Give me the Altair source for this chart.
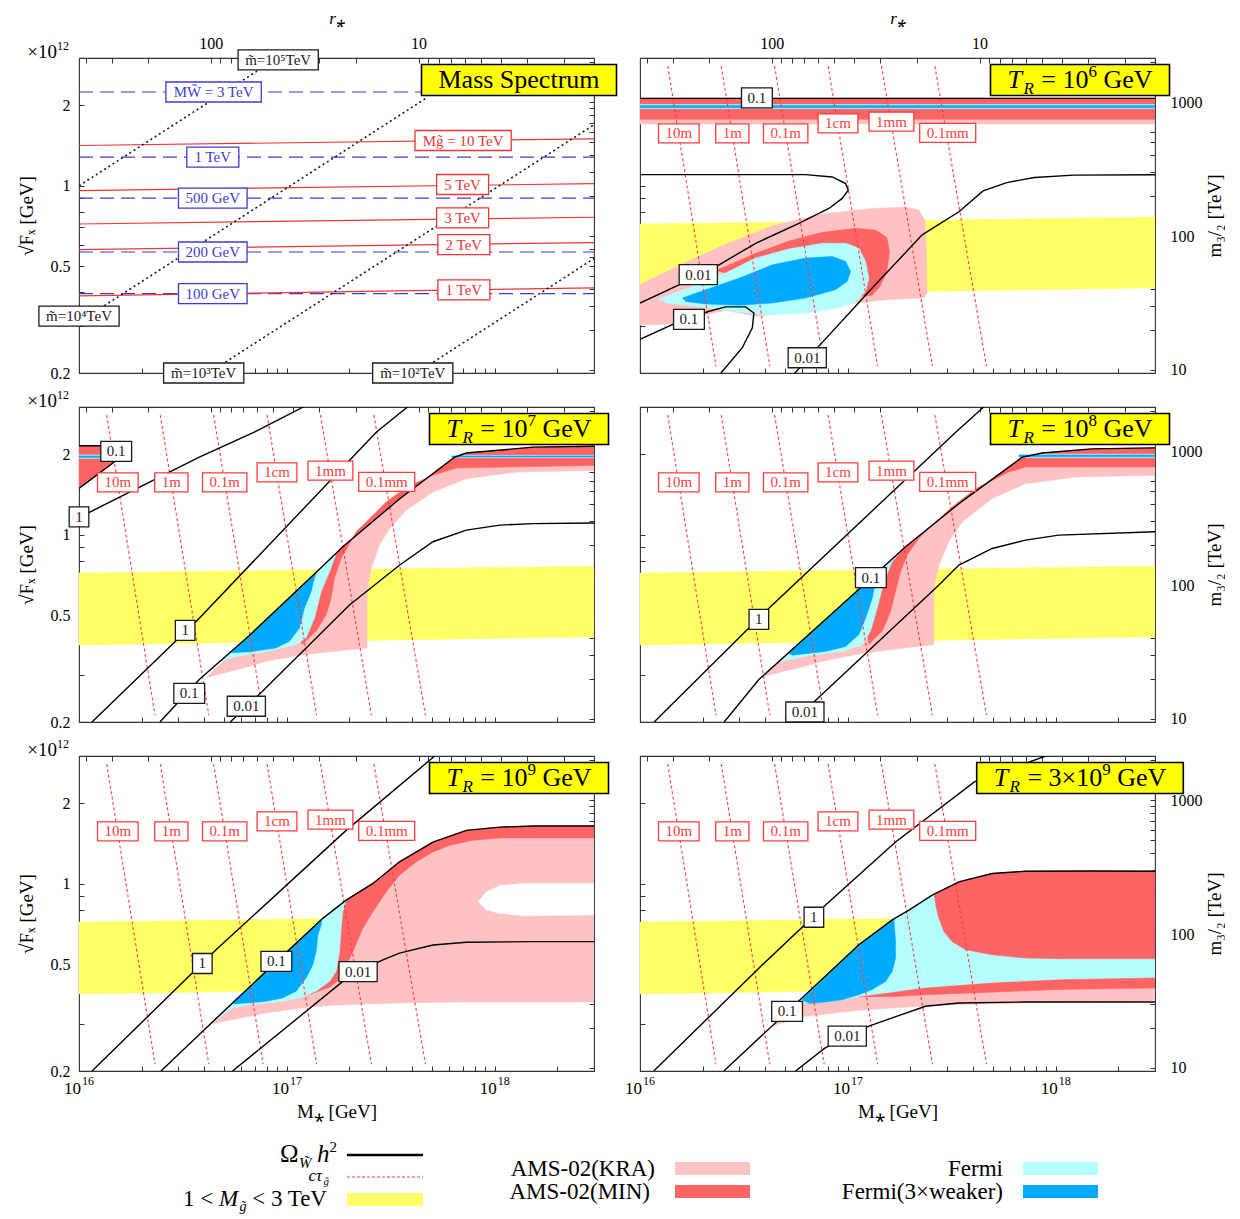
import altair as alt
import pandas as pd

FONT = "Liberation Serif"
W, H = 515, 315
X_DOM = [1e16, 3e18]
Y_DOM = [0.2, 3.0]
M32_DOM = [9.484, 2133.9]     # m_3/2 [TeV] at the two ends of the sqrt(F) axis
RS_DOM = [1.433, 430.0]       # r_* at the two ends of the M_* axis

C_KRA = "#ffc2c2"
C_MIN = "#ff6464"
C_FER = "#b4ffff"
C_FER3 = "#00aaff"
C_YEL = "#ffff66"
C_TITLE = "#ffff00"
C_CT = "#ff3b3b"
C_BLUE = "#3c3cd0"
C_RED = "#ee3535"
C_BLK = "#1a1a1a"

X_TICKS = [1e16, 2e16, 3e16, 4e16, 5e16, 6e16, 7e16, 8e16, 9e16, 1e17, 2e17, 3e17, 4e17, 5e17,
           6e17, 7e17, 8e17, 9e17, 1e18, 2e18]
Y_TICKS = [0.2, 0.3, 0.4, 0.5, 0.6, 0.7, 0.8, 0.9, 1.0, 2.0]
M_TICKS = [10, 20, 30, 40, 50, 60, 70, 80, 90, 100, 200, 300, 400, 500, 600, 700, 800, 900, 1000, 2000]
R_TICKS = [2, 3, 4, 5, 6, 7, 8, 9, 10, 20, 30, 40, 50, 60, 70, 80, 90, 100, 200, 300, 400]
Y_EXPR = "datum.value == 0.2 ? '0.2' : datum.value == 0.5 ? '0.5' : datum.value == 1 ? '1' : datum.value == 2 ? '2' : ''"
M_EXPR = "datum.value == 10 ? '10' : datum.value == 100 ? '100' : datum.value == 1000 ? '1000' : ''"
R_EXPR = "datum.value == 10 ? '10' : datum.value == 100 ? '100' : ''"

# ---------------- shared data ----------------
GLU_M = [1e16, 3e18, 3e18, 1e16]          # 1 TeV < M_gluino < 3 TeV band
GLU_F = [0.388, 0.416, 0.763, 0.72]

CT_TOP_M = [1.36e16, 2.46e16, 4.44e16, 8.03e16, 1.45e17, 2.62e17]
CT_BOT_M = [2.32e16, 4.21e16, 7.69e16, 1.39e17, 2.55e17, 4.64e17]
CT_TOP_F = 2.8
CT_BOT_F = 0.212
CT_LAB = ["10m", "1m", "0.1m", "1cm", "1mm", "0.1mm"]
CT_LAB_M = [1.537e16, 2.78e16, 5.02e16, 8.96e16, 1.62e17, 3.02e17]
CT_LAB_F = [1.57, 1.57, 1.57, 1.71, 1.735, 1.575]

# ---------------- panel 1: mass spectrum ----------------
MW_LEVELS = [2.24, 1.28, 0.899, 0.566, 0.396]
MG_LEFT = [1.414, 0.96, 0.72, 0.578, 0.388]
MG_RIGHT = [1.497, 1.019, 0.763, 0.614, 0.416]
MSF_M = [[1e16, 9.0e16], [1e16, 4.7e17], [4.2e16, 3e18], [4.2e17, 3e18]]
MSF_F = [[1.0, 3.0], [0.31, 2.13], [0.2, 1.69], [0.2, 0.535]]
P1_LAB = ["m\u0303=10\u2075TeV", "MW\u0303 = 3 TeV", "1 TeV", "500 GeV", "200 GeV", "100 GeV",
          "Mg\u0303 = 10 TeV", "5 TeV", "3 TeV", "2 TeV", "1 TeV",
          "m\u0303=10\u2074TeV", "m\u0303=10\u00b3TeV", "m\u0303=10\u00b2TeV"]
P1_LAB_M = [9.08e16, 4.44e16, 4.4e16, 4.4e16, 4.4e16, 4.4e16, 7.04e17, 7.0e17, 7.0e17, 7.1e17,
            7.1e17, 1.0e16, 3.98e16, 4.03e17]
P1_LAB_F = [2.95, 2.24, 1.28, 0.899, 0.566, 0.396, 1.476, 1.011, 0.759, 0.603, 0.409, 0.326, 0.2, 0.2]
P1_LAB_C = [C_BLK] + [C_BLUE] * 5 + [C_RED] * 5 + [C_BLK] * 3

# ---------------- panel 2: T_R = 1e6 GeV ----------------
P2_TOP_M = [1e16, 3e18, 3e18, 1e16]
P2_TOP_KRA_F = [1.70, 1.70, 2.12, 2.12]
P2_TOP_MIN_F = [1.77, 1.77, 2.12, 2.12]
P2_TOP_FER_F = [1.94, 1.94, 2.01, 2.01]
P2_TOP_FER3_F = [1.955, 1.955, 1.995, 1.995]
P2_KRA_M = [1.0e16, 1.43e16, 2.49e16, 4.33e16, 7.53e16, 1.309e17, 1.893e17, 2.193e17, 2.345e17, 2.38e17,
            2.406e17, 2.32e17, 1.574e17, 1.089e17, 7.53e16, 5.2e16, 3.6e16, 2.58e16, 2.07e16, 1.43e16, 1.0e16]
P2_KRA_F = [0.427, 0.490, 0.598, 0.710, 0.785, 0.823, 0.833, 0.812, 0.745, 0.585,
            0.398, 0.381, 0.376, 0.365, 0.350, 0.335, 0.326, 0.343, 0.330, 0.305, 0.302]
P2_MIN_M = [2.31e16, 3.6e16, 5.2e16, 7.53e16, 1.089e17, 1.358e17, 1.54e17, 1.586e17, 1.54e17, 1.42e17,
            1.309e17, 1.129e17, 9.05e16, 5.2e16, 2.99e16]
P2_MIN_F = [0.482, 0.560, 0.622, 0.670, 0.694, 0.684, 0.641, 0.568, 0.479, 0.418,
            0.390, 0.387, 0.398, 0.466, 0.459]
P2_FER_M = [1.234e16, 1.72e16, 2.49e16, 3.6e16, 5.2e16, 7.53e16, 9.75e16, 1.129e17, 1.216e17, 1.262e17,
            1.216e17, 1.089e17, 9.05e16, 6.26e16, 4.33e16, 3.34e16, 2.49e16, 1.72e16, 1.328e16]
P2_FER_F = [0.379, 0.415, 0.466, 0.537, 0.581, 0.610, 0.610, 0.585, 0.522, 0.452,
            0.403, 0.370, 0.350, 0.335, 0.330, 0.335, 0.345, 0.358, 0.365]
P2_FER3_M = [1.598e16, 2.07e16, 2.99e16, 4.33e16, 6.26e16, 8.41e16, 9.75e16, 1.03e17, 9.93e16, 8.72e16,
             6.26e16, 4.33e16, 2.99e16, 2.07e16, 1.658e16]
P2_FER3_F = [0.381, 0.409, 0.452, 0.507, 0.537, 0.545, 0.522, 0.479, 0.440, 0.409,
             0.381, 0.365, 0.358, 0.362, 0.370]
P2_C_M = [[1.0e16, 6.26e16, 8.41e16, 9.75e16, 1.004e17, 9.39e16, 8.1e16, 5.81e16, 3.6e16, 2.4e16, 1.54e16, 1.0e16],
          [1.0e16, 1.43e16, 2.15e16, 2.58e16, 3.22e16, 3.53e16, 3.47e16, 3.1e16, 2.45e16],
          [5.5e16, 7.25e16, 1.309e17, 2.276e17, 3.42e17, 4.47e17, 5.81e17, 7.89e17, 1.22e18, 3.0e18],
          [1.0e16, 3.0e18]]
P2_C_F = [[1.101, 1.101, 1.079, 1.019, 0.964, 0.897, 0.823, 0.724, 0.610, 0.507, 0.427, 0.365],
          [0.267, 0.303, 0.340, 0.353, 0.353, 0.335, 0.295, 0.248, 0.2],
          [0.198, 0.252, 0.415, 0.656, 0.800, 0.957, 1.028, 1.074, 1.096, 1.099],
          [2.12, 2.12]]
P2_LAB = ["0.1", "0.01", "0.1", "0.01"]
P2_LAB_M = [3.65e16, 1.907e16, 1.72e16, 6.375e16]
P2_LAB_F = [2.13, 0.466, 0.317, 0.228]

# ---------------- panel 3: T_R = 1e7 GeV ----------------
P3_TRI_M = [1e16, 1.45e16, 1.56e16, 1e16]
P3_TRI_F = [2.15, 2.15, 1.93, 1.49]
P3_TLS_M = [1e16, 1.3e16, 1.3e16, 1e16]
P3_TLS_FER_F = [1.93, 1.93, 1.985, 1.985]
P3_TLS_FER3_F = [1.945, 1.945, 1.97, 1.97]
P3_TRS_M = [6.2e17, 3e18, 3e18, 6.2e17]
P3_TRS_FER_F = [1.94, 1.94, 1.98, 1.98]
P3_TRS_FER3_F = [1.95, 1.95, 1.97, 1.97]
P3_KRA_M = [4.08e16, 6.6e16, 1.392e17, 1.858e17, 3.49e17, 6.41e17, 7.3e17, 1.53e18, 3.0e18, 3.0e18, 1.272e18,
            7.3e17, 5.04e17, 3.75e17, 3.12e17, 2.79e17, 2.545e17, 2.43e17, 2.43e17, 1.663e17, 1.148e17, 7.94e16, 5.48e16]
P3_KRA_F = [0.292, 0.421, 0.728, 0.902, 1.364, 1.948, 2.02, 2.124, 2.142, 1.739, 1.714,
            1.618, 1.444, 1.235, 1.055, 0.916, 0.749, 0.614, 0.378, 0.367, 0.355, 0.337, 0.310]
P3_MIN_M = [1.19e17, 1.12e17, 1.25e17, 1.64e17, 1.75e17, 1.858e17, 3.49e17, 6.41e17, 7.3e17, 1.53e18, 3.0e18,
            3.0e18, 6.53e17, 5.04e17, 3.75e17, 3.006e17, 2.592e17, 2.154e17, 1.824e17, 1.694e17, 1.633e17, 1.545e17, 1.382e17]
P3_MIN_F = [0.389, 0.42, 0.6, 0.8, 0.863, 0.902, 1.364, 1.948, 2.02, 2.124, 2.142,
            1.816, 1.774, 1.667, 1.507, 1.327, 1.183, 1.026, 0.816, 0.688, 0.58, 0.503, 0.436]
P3_FER_M = [4.6e16, 6.6e16, 1.392e17, 1.726e17, 1.603e17, 1.461e17, 1.357e17, 1.236e17, 1.108e17, 7.94e16, 5.48e16]
P3_FER_F = [0.33, 0.421, 0.728, 0.85, 0.728, 0.614, 0.488, 0.412, 0.389, 0.367, 0.349]
P3_FER3_M = [5.38e16, 6.6e16, 1.392e17, 1.357e17, 1.308e17, 1.214e17, 1.148e17, 1.028e17, 8.86e16, 6.6e16]
P3_FER3_F = [0.362, 0.421, 0.728, 0.688, 0.614, 0.532, 0.448, 0.4, 0.378, 0.365]
P3_C_M = [[2.45e16, 3.79e16, 6.6e16, 1.392e17, 1.858e17, 3.49e17, 6.41e17, 7.3e17, 1.53e18, 3.0e18],
          [1.0e16, 1.45e16, 1.56e16, 1.0e16],
          [1.0e16, 3.79e16, 6.97e16, 1.2e17],
          [1.155e16, 3.79e16, 2.69e17, 3.8e17],
          [5.34e16, 7.65e16, 2.0e17, 3.49e17, 5.04e17, 7.3e17, 1.057e18, 1.53e18, 3.0e18]]
P3_C_F = [[0.2, 0.288, 0.421, 0.728, 0.902, 1.364, 1.948, 2.02, 2.124, 2.142],
          [2.15, 2.15, 1.93, 1.49],
          [1.16, 1.95, 2.415, 3.0],
          [0.2, 0.488, 2.415, 3.0],
          [0.2, 0.261, 0.547, 0.771, 0.942, 1.041, 1.087, 1.101, 1.106]]
P3_LAB = ["0.1", "1", "1", "0.1", "0.01"]
P3_LAB_M = [1.51e16, 1.0e16, 3.24e16, 3.39e16, 6.38e16]
P3_LAB_F = [2.05, 1.167, 0.44, 0.256, 0.229]

# ---------------- panel 4: T_R = 1e8 GeV ----------------
P4_TRS_M = [6.64e17, 3e18, 3e18, 6.64e17]
P4_TRS_FER_F = [1.94, 1.94, 2.0, 2.0]
P4_TRS_FER3_F = [1.955, 1.955, 1.985, 1.985]
P4_KRA_M = [3.95e16, 1.13e17, 1.894e17, 3.42e17, 6.89e17, 8.6e17, 1.495e18, 3.0e18, 3.0e18, 1.244e18, 7.15e17,
            4.94e17, 3.55e17, 3.06e17, 2.74e17, 2.59e17, 2.59e17, 1.633e17, 1.13e17, 7.81e16, 5.4e16]
P4_KRA_F = [0.296, 0.626, 0.902, 1.307, 1.948, 2.02, 2.093, 2.111, 1.667, 1.643, 1.551,
            1.365, 1.117, 0.942, 0.771, 0.632, 0.389, 0.373, 0.359, 0.339, 0.314]
P4_MIN_M = [1.262e17, 1.2e17, 1.5e17, 1.824e17, 3.42e17, 6.89e17, 8.6e17, 1.495e18, 3.0e18, 3.0e18, 7.15e17,
            5.94e17, 4.11e17, 3.17e17, 2.64e17, 2.19e17, 1.928e17, 1.792e17, 1.695e17, 1.605e17, 1.462e17]
P4_MIN_F = [0.389, 0.5, 0.75, 0.878, 1.307, 1.948, 2.02, 2.093, 2.111, 1.79, 1.79,
            1.714, 1.486, 1.271, 1.117, 0.968, 0.84, 0.728, 0.614, 0.517, 0.436]
P4_FER_M = [4.7e16, 1.13e17, 1.824e17, 1.633e17, 1.49e17, 1.383e17, 1.285e17, 1.172e17, 9.39e16, 6.49e16, 5.01e16]
P4_FER_F = [0.333, 0.626, 0.878, 0.794, 0.668, 0.532, 0.436, 0.389, 0.367, 0.354, 0.34]
P4_FER3_M = [5.2e16, 1.13e17, 1.36e17, 1.35e17, 1.309e17, 1.217e17, 1.13e17, 9.75e16, 7.81e16, 5.4e16]
P4_FER3_F = [0.36, 0.626, 0.714, 0.65, 0.58, 0.488, 0.424, 0.383, 0.367, 0.355]
P4_C_M = [[2.54e16, 3.73e16, 1.13e17, 1.894e17, 3.42e17, 6.89e17, 8.6e17, 1.495e18, 3.0e18],
          [1.17e16, 4.17e16, 3.3e17, 4.5e17],
          [5.42e16, 7.81e16, 2.74e17, 3.42e17, 4.94e17, 7.15e17, 1.033e18, 3.0e18]]
P4_C_F = [[0.2, 0.288, 0.626, 0.902, 1.307, 1.948, 2.02, 2.093, 2.111],
          [0.2, 0.532, 2.415, 3.0],
          [0.2, 0.261, 0.650, 0.771, 0.889, 0.955, 0.997, 1.027]]
P4_LAB = ["1", "0.1", "0.01"]
P4_LAB_M = [3.73e16, 1.29e17, 6.21e16]
P4_LAB_F = [0.483, 0.692, 0.218]

# ---------------- panel 5: T_R = 1e9 GeV ----------------
P5_KRA_M = [4.23e16, 7.94e16, 1.488e17, 1.928e17, 2.593e17, 3.48e17, 5.04e17, 7.3e17, 1.057e18, 1.53e18,
            3.0e18, 3.0e18, 7.3e17, 3.48e17, 2.407e17, 1.663e17, 1.148e17, 7.94e16, 5.48e16]
P5_KRA_F = [0.298, 0.471, 0.743, 0.869, 1.003, 1.208, 1.432, 1.583, 1.628, 1.643,
            1.643, 0.362, 0.362, 0.359, 0.356, 0.352, 0.344, 0.329, 0.311]
P5_MIN_M = [1.283e17, 1.6e17, 1.75e17, 1.8e17, 1.928e17, 2.593e17, 3.48e17, 5.04e17, 7.3e17, 1.057e18, 1.53e18,
            3.0e18, 3.0e18, 1.057e18, 7.86e17, 6.07e17, 5.04e17, 4.195e17, 3.48e17, 3.006e17, 2.593e17, 2.32e17,
            2.077e17, 1.791e17, 1.6e17]
P5_MIN_F = [0.385, 0.45, 0.6, 0.8, 0.869, 1.003, 1.208, 1.432, 1.583, 1.628, 1.643,
            1.643, 1.483, 1.483, 1.453, 1.392, 1.315, 1.208, 1.077, 0.934, 0.787, 0.682,
            0.558, 0.44, 0.41]
P5_FER_M = [4.39e16, 7.94e16, 1.488e17, 1.928e17, 1.858e17, 1.824e17, 1.791e17, 1.726e17, 1.603e17, 1.382e17,
            1.148e17, 9.55e16, 6.6e16, 5.48e16]
P5_FER_F = [0.302, 0.471, 0.743, 0.869, 0.787, 0.682, 0.558, 0.471, 0.432, 0.397,
            0.375, 0.364, 0.354, 0.344]
P5_FER3_M = [5.38e16, 7.94e16, 1.47e17, 1.461e17, 1.408e17, 1.382e17, 1.332e17, 1.237e17, 1.107e17, 9.55e16,
             7.94e16, 6.6e16]
P5_FER3_F = [0.355, 0.471, 0.735, 0.70, 0.644, 0.558, 0.498, 0.445, 0.397, 0.375, 0.364, 0.359]
P5_HOLE_M = [8.31e17, 9.12e17, 1.057e18, 1.37e18, 3.0e18, 3.0e18, 1.37e18, 1.057e18, 9.12e17]
P5_HOLE_F = [0.857, 0.934, 0.983, 1.002, 1.002, 0.765, 0.760, 0.776, 0.798]
P5_C_M = [[2.48e16, 3.79e16, 7.94e16, 1.488e17, 1.928e17, 2.593e17, 3.48e17, 5.04e17, 7.3e17, 1.057e18, 1.53e18, 3.0e18],
          [1.155e16, 4.56e16, 1.928e17, 5.14e17],
          [5.48e16, 1.858e17, 2.2e17, 2.896e17, 3.48e17, 5.04e17, 7.3e17, 1.53e18, 3.0e18]]
P5_C_F = [[0.2, 0.274, 0.471, 0.743, 0.869, 1.003, 1.208, 1.432, 1.583, 1.628, 1.643, 1.643],
          [0.2, 0.567, 1.583, 3.0],
          [0.2, 0.432, 0.47, 0.52, 0.551, 0.591, 0.605, 0.608, 0.608]]
P5_LAB = ["1", "0.1", "0.01"]
P5_LAB_M = [3.92e16, 8.9e16, 2.2e17]
P5_LAB_F = [0.504, 0.513, 0.47]

# ---------------- panel 6: T_R = 3e9 GeV ----------------
P6_KRA_M = [4.33e16, 5.79e16, 1.129e17, 1.634e17, 1.965e17, 2.543e17, 3.417e17, 4.94e17, 7.15e17, 1.5e18, 3.0e18,
            3.0e18, 7.15e17, 3.417e17, 1.965e17, 1.129e17, 6.26e16]
P6_KRA_F = [0.294, 0.364, 0.592, 0.733, 0.798, 0.907, 1.017, 1.092, 1.114, 1.116, 1.114,
            0.366, 0.359, 0.354, 0.347, 0.337, 0.320]
P6_FER_M = [5.7e16, 1.129e17, 1.634e17, 1.965e17, 2.543e17, 3.417e17, 4.94e17, 7.15e17, 1.5e18, 3.0e18,
            3.0e18, 1.034e18, 4.94e17, 2.363e17, 1.129e17, 7.81e16]
P6_FER_F = [0.36, 0.592, 0.733, 0.798, 0.907, 1.017, 1.092, 1.114, 1.116, 1.114,
            0.445, 0.438, 0.426, 0.408, 0.378, 0.361]
P6_MIN_M = [2.591e17, 3.417e17, 4.94e17, 7.15e17, 1.5e18, 3.0e18, 3.0e18, 1.034e18, 7.15e17, 4.94e17, 3.68e17,
            3.174e17, 2.894e17, 2.74e17, 2.64e17]
P6_MIN_F = [0.907, 1.017, 1.092, 1.114, 1.116, 1.114, 0.525, 0.525, 0.528, 0.543, 0.567,
            0.608, 0.663, 0.743, 0.833]
P6_MINB_M = [1.129e17, 2.363e17, 4.94e17, 1.034e18, 3.0e18, 3.0e18, 1.034e18, 4.94e17, 2.363e17, 1.634e17]
P6_MINB_F = [0.378, 0.408, 0.426, 0.438, 0.445, 0.408, 0.403, 0.394, 0.385, 0.379]
P6_FER3_M = [6.0e16, 1.129e17, 1.634e17, 1.664e17, 1.695e17, 1.695e17, 1.634e17, 1.517e17, 1.309e17, 1.129e17,
             9.39e16, 7.81e16, 6.49e16]
P6_FER3_F = [0.368, 0.592, 0.733, 0.736, 0.608, 0.528, 0.471, 0.432, 0.403, 0.385, 0.369, 0.362, 0.357]
P6_C_M = [[2.53e16, 5.79e16, 1.129e17, 1.634e17, 1.965e17, 2.543e17, 3.417e17, 4.94e17, 7.15e17, 1.5e18, 3.0e18],
          [1.165e16, 3.73e16, 7.81e16, 1.695e17, 4.06e17, 8.94e17],
          [5.6e16, 7.71e16, 9.93e16, 1.262e17, 1.634e17, 2.363e17, 3.417e17, 7.15e17, 3.0e18]]
P6_C_F = [[0.2, 0.364, 0.592, 0.733, 0.798, 0.907, 1.017, 1.092, 1.114, 1.116, 1.114],
          [0.2, 0.484, 0.833, 1.432, 2.4, 3.0],
          [0.2, 0.243, 0.27, 0.294, 0.316, 0.349, 0.359, 0.362, 0.362]]
P6_LAB = ["1", "0.1", "0.01"]
P6_LAB_M = [6.86e16, 5.1e16, 9.93e16]
P6_LAB_F = [0.75, 0.334, 0.27]

# ---------------- helpers ----------------
DUMMY = pd.DataFrame({"a": [0]})
CW = {".": 0.25, " ": 0.25, "m": 0.778, "c": 0.444, "T": 0.611, "e": 0.444, "V": 0.722, "G": 0.722,
      "=": 0.564, "M": 0.889, "W": 0.944, "g": 0.5, "S": 0.556, "p": 0.5, "t": 0.278, "r": 0.333,
      "u": 0.5, "a": 0.444, "s": 0.389, "\u00d7": 0.564, "R": 0.667, "\u0303": 0.0, "\u2075": 0.3,
      "\u2074": 0.3, "\u00b3": 0.3, "\u00b2": 0.3, "<": 0.564, "h": 0.5, "\u03a9": 0.768,
      "\u03c4": 0.44, "K": 0.722, "A": 0.722, "I": 0.333, "N": 0.722, "(": 0.333, ")": 0.333,
      "-": 0.333, "F": 0.556, "i": 0.278, "w": 0.722, "k": 0.5}
LEG_DY = 8   # vertical shift of the legend block


def text_w(s, fs):
    return sum(CW.get(ch, 0.5) for ch in s) * fs


def box_path(w, h):
    return "M{a:.1f},{b:.1f}H{c:.1f}V{d:.1f}H{a:.1f}Z".format(a=-w / 2, b=-h / 2, c=w / 2, d=h / 2)


def mk_axis(**kw):
    base = dict(domain=False, grid=False, ticks=True, tickSize=5, tickColor="#333333", tickWidth=1,
                offset=-5, labelFont=FONT, labelFontSize=16, labelColor="black", titleFont=FONT,
                titleFontSize=19, titleFontWeight="normal", titleColor="black", labelOverlap=False,
                labelFlush=False)
    base.update(kw)
    return alt.Axis(**base)


def groups_df(Ms, Fs):
    rows = []
    for g, (M, F) in enumerate(zip(Ms, Fs)):
        for i, (m, f) in enumerate(zip(M, F)):
            rows.append({"M": m, "F": f, "g": g, "i": i})
    return pd.DataFrame(rows)


def poly_layer(M, F, color, xe, ye):
    df = pd.DataFrame({"M": M, "F": F, "i": list(range(len(M)))})
    return alt.Chart(df).mark_line(fill=color, stroke=color, strokeWidth=0.5, clip=True).encode(
        x=xe, y=ye, order="i:Q")


def line_layer(Ms, Fs, color, width, dash, xe, ye):
    mk = dict(color=color, strokeWidth=width, clip=True)
    if dash:
        mk["strokeDash"] = dash
    return alt.Chart(groups_df(Ms, Fs)).mark_line(**mk).encode(x=xe, y=ye, detail="g:N", order="i:Q")


def label_layers(texts, Ms, Fs, colors, fs, pad, h, xe, ye, sw=1.3):
    df = pd.DataFrame({"M": Ms, "F": Fs, "t": texts, "c": colors,
                       "shp": [box_path(text_w(t, fs) + pad, h) for t in texts]})
    boxes = alt.Chart(df).mark_point(fill="white", fillOpacity=1, opacity=1, strokeWidth=sw, size=4).encode(
        x=xe, y=ye, shape=alt.Shape("shp:N", scale=None), stroke=alt.Stroke("c:N", scale=None))
    txt = alt.Chart(df).mark_text(font=FONT, fontSize=fs, baseline="middle", align="center").encode(
        x=xe, y=ye, text="t:N", color=alt.Color("c:N", scale=None))
    return [boxes, txt]


def piece_layers(pieces, x_anchor, y_base, align="center", color="black"):
    """Text made of pieces (sub/superscripts); leading spaces become explicit offsets."""
    widths = [text_w(t, s) for t, s, st, dy in pieces]
    total = sum(widths)
    if align == "center":
        x = x_anchor - total / 2
    elif align == "right":
        x = x_anchor - total
    else:
        x = x_anchor
    out = []
    for (t, s, st, dy), w in zip(pieces, widths):
        lead = len(t) - len(t.lstrip(" "))
        core = t.strip(" ")
        if core:
            out.append(alt.Chart(DUMMY).mark_text(text=core, font=FONT, fontSize=s, fontStyle=st, align="left",
                                                  baseline="alphabetic", color=color).encode(
                x=alt.value(x + lead * CW[" "] * s), y=alt.value(y_base + dy)))
        x += w
    return out


def title_layers(pieces):
    total = sum(text_w(t, s) for t, s, st, dy in pieces)
    box = alt.Chart(DUMMY).mark_point(shape=box_path(total + 34, 31), size=4, fill=C_TITLE, fillOpacity=1,
                                      stroke="black", strokeWidth=1.6, opacity=1).encode(
        x=alt.value(440), y=alt.value(22))
    return [box] + piece_layers(pieces, 440, 30)


def tr_title(pre, exp):
    return [("T", 26, "italic", 0), ("R", 17, "italic", 6), (" = " + pre + "10", 26, "normal", 0),
            (exp, 17, "normal", -11), (" GeV", 26, "normal", 0)]


def rect_px(x1, x2, y1, y2, color):
    return alt.Chart(DUMMY).mark_rect(color=color).encode(
        x=alt.value(x1), x2=alt.value(x2), y=alt.value(y1 + LEG_DY), y2=alt.value(y2 + LEG_DY))


def legend_layers():
    # pixel positions relative to the bottom-left panel's plot origin
    d = LEG_DY
    L = [rect_px(596, 671, 398, 411, C_KRA), rect_px(596, 671, 421, 434, C_MIN),
         rect_px(944, 1019, 398, 411, C_FER), rect_px(944, 1019, 421, 434, C_FER3),
         rect_px(268, 344, 429, 442, C_YEL),
         alt.Chart(DUMMY).mark_rule(color="black", strokeWidth=2.5).encode(
             x=alt.value(268), x2=alt.value(344), y=alt.value(391 + d)),
         alt.Chart(DUMMY).mark_rule(color=C_CT, strokeWidth=1.2, strokeDash=[3, 2]).encode(
             x=alt.value(268), x2=alt.value(344), y=alt.value(413 + d))]
    for txt, xr, yb in [("AMS-02(KRA)", 576, 412), ("AMS-02(MIN)", 571, 435), ("Fermi", 924, 412),
                        ("Fermi(3\u00d7weaker)", 924, 435)]:
        L += piece_layers([(txt, 23, "normal", 0)], xr, yb + d, align="right")
    L += piece_layers([("\u03a9", 25, "normal", 0), ("W\u0303 ", 15, "italic", 6),
                       ("h", 25, "italic", 0), ("2", 15, "normal", -10)], 258, 398 + d, align="right")
    L += piece_layers([("c\u03c4", 17, "italic", 0), ("g\u0303", 11, "italic", 4)], 250, 417 + d, align="right")
    L += piece_layers([("1 < ", 23, "normal", 0), ("M", 23, "italic", 0), ("g\u0303", 14, "italic", 5),
                       (" < 3 TeV", 23, "normal", 0)], 250, 442 + d, align="right")
    return L


def build_panel(row, col, spec):
    axb = mk_axis(orient="bottom", values=X_TICKS, labels=False,
                  title=("M\u204e [GeV]" if row == 2 else None), titlePadding=31)
    axl = mk_axis(orient="left", values=Y_TICKS, labels=(col == 0), labelExpr=Y_EXPR, labelPadding=9,
                  title=("\u221aF\u2093 [GeV]" if col == 0 else None), titlePadding=14)
    xe = alt.X("M:Q", scale=alt.Scale(type="log", domain=X_DOM, nice=False), axis=axb)
    ye = alt.Y("F:Q", scale=alt.Scale(type="log", domain=Y_DOM, nice=False), axis=axl)
    L = []
    for M, F, c in spec.get("regions", []):
        L.append(poly_layer(M, F, c, xe, ye))
    if spec.get("ct", False):
        L.append(line_layer([[a, b] for a, b in zip(CT_TOP_M, CT_BOT_M)],
                            [[CT_TOP_F, CT_BOT_F] for _ in CT_TOP_M], C_CT, 1.1, [3, 2.5], xe, ye))
    for Ms, Fs, c, wdt, dash in spec.get("lines", []):
        L.append(line_layer(Ms, Fs, c, wdt, dash, xe, ye))
    if spec.get("ct", False):
        L += label_layers(CT_LAB, CT_LAB_M, CT_LAB_F, [C_CT] * len(CT_LAB), 15, 14, 19, xe, ye)
    for texts, Ms, Fs, colors, fs, pad, h in spec.get("labels", []):
        L += label_layers(texts, Ms, Fs, colors, fs, pad, h, xe, ye)
    if row == 2:
        df = pd.DataFrame({"M": [1e16, 1e17, 1e18], "F": [0.2, 0.2, 0.2], "s": ["16", "17", "18"]})
        L.append(alt.Chart(df).mark_text(text="10", font=FONT, fontSize=17, align="right", baseline="alphabetic",
                                         dx=2, dy=23, color="black").encode(x=xe, y=ye))
        L.append(alt.Chart(df).mark_text(font=FONT, fontSize=12, align="left", baseline="alphabetic",
                                         dx=3, dy=14, color="black").encode(x=xe, y=ye, text="s:N"))
    if col == 0:
        L += piece_layers([("\u00d710", 19, "normal", 0), ("12", 12, "normal", -8)], -10, 0, align="right")
    L += title_layers(spec["title"])
    if spec.get("legend", False):
        L += legend_layers()
    inner = alt.layer(*L)

    axr = mk_axis(orient="right", values=M_TICKS, labels=(col == 1), labelExpr=M_EXPR, labelPadding=15,
                  title=("m\u2083/\u2082 [TeV]" if col == 1 else None), titlePadding=3,
                  titleAngle=270, titleBaseline="top")
    m_layer = alt.Chart(pd.DataFrame({"m": [10.0, 1000.0]})).mark_point(opacity=0).encode(
        y=alt.Y("m:Q", scale=alt.Scale(type="log", domain=M32_DOM, nice=False), axis=axr),
        x=alt.value(0))
    axt = mk_axis(orient="top", values=R_TICKS, labels=(row == 0), labelExpr=R_EXPR, labelPadding=7,
                  title=("r\u204e" if row == 0 else None), titlePadding=8, titleFontStyle="italic",
                  titleFontSize=17)
    r_layer = alt.Chart(pd.DataFrame({"r": [10.0, 100.0]})).mark_point(opacity=0).encode(
        x=alt.X("r:Q", scale=alt.Scale(type="log", domain=RS_DOM, reverse=True, nice=False), axis=axt),
        y=alt.value(0))
    return alt.layer(inner, m_layer, r_layer).resolve_scale(x="independent", y="independent").properties(
        width=W, height=H)


# ---------------- panels ----------------
p1 = build_panel(0, 0, dict(
    lines=[([[1e16, 3e18] for _ in MW_LEVELS], [[v, v] for v in MW_LEVELS], C_BLUE, 1.2, [14, 7]),
           ([[1e16, 3e18] for _ in MG_LEFT], [[a, b] for a, b in zip(MG_LEFT, MG_RIGHT)], C_RED, 1.2, None),
           (MSF_M, MSF_F, C_BLK, 1.6, [2, 3])],
    labels=[(P1_LAB, P1_LAB_M, P1_LAB_F, P1_LAB_C, 15, 14, 20)],
    title=[("Mass Spectrum", 26, "normal", 0)]))

p2 = build_panel(0, 1, dict(
    regions=[(GLU_M, GLU_F, C_YEL),
             (P2_TOP_M, P2_TOP_KRA_F, C_KRA), (P2_TOP_M, P2_TOP_MIN_F, C_MIN),
             (P2_TOP_M, P2_TOP_FER_F, C_FER), (P2_TOP_M, P2_TOP_FER3_F, C_FER3),
             (P2_KRA_M, P2_KRA_F, C_KRA), (P2_MIN_M, P2_MIN_F, C_MIN),
             (P2_FER_M, P2_FER_F, C_FER), (P2_FER3_M, P2_FER3_F, C_FER3)],
    ct=True,
    lines=[(P2_C_M, P2_C_F, "black", 1.4, None)],
    labels=[(P2_LAB, P2_LAB_M, P2_LAB_F, [C_BLK] * len(P2_LAB), 15, 12, 20)],
    title=tr_title("", "6")))

p3 = build_panel(1, 0, dict(
    regions=[(GLU_M, GLU_F, C_YEL),
             (P3_TRI_M, P3_TRI_F, C_MIN), (P3_TLS_M, P3_TLS_FER_F, C_FER), (P3_TLS_M, P3_TLS_FER3_F, C_FER3),
             (P3_KRA_M, P3_KRA_F, C_KRA), (P3_MIN_M, P3_MIN_F, C_MIN),
             (P3_FER_M, P3_FER_F, C_FER), (P3_FER3_M, P3_FER3_F, C_FER3),
             (P3_TRS_M, P3_TRS_FER_F, C_FER), (P3_TRS_M, P3_TRS_FER3_F, C_FER3)],
    ct=True,
    lines=[(P3_C_M, P3_C_F, "black", 1.4, None)],
    labels=[(P3_LAB, P3_LAB_M, P3_LAB_F, [C_BLK] * len(P3_LAB), 15, 12, 20)],
    title=tr_title("", "7")))

p4 = build_panel(1, 1, dict(
    regions=[(GLU_M, GLU_F, C_YEL),
             (P4_KRA_M, P4_KRA_F, C_KRA), (P4_MIN_M, P4_MIN_F, C_MIN),
             (P4_FER_M, P4_FER_F, C_FER), (P4_FER3_M, P4_FER3_F, C_FER3),
             (P4_TRS_M, P4_TRS_FER_F, C_FER), (P4_TRS_M, P4_TRS_FER3_F, C_FER3)],
    ct=True,
    lines=[(P4_C_M, P4_C_F, "black", 1.4, None)],
    labels=[(P4_LAB, P4_LAB_M, P4_LAB_F, [C_BLK] * len(P4_LAB), 15, 12, 20)],
    title=tr_title("", "8")))

p5 = build_panel(2, 0, dict(
    regions=[(GLU_M, GLU_F, C_YEL),
             (P5_KRA_M, P5_KRA_F, C_KRA), (P5_MIN_M, P5_MIN_F, C_MIN),
             (P5_FER_M, P5_FER_F, C_FER), (P5_FER3_M, P5_FER3_F, C_FER3),
             (P5_HOLE_M, P5_HOLE_F, "#ffffff")],
    ct=True,
    lines=[(P5_C_M, P5_C_F, "black", 1.4, None)],
    labels=[(P5_LAB, P5_LAB_M, P5_LAB_F, [C_BLK] * len(P5_LAB), 15, 12, 20)],
    title=tr_title("", "9"),
    legend=True))

p6 = build_panel(2, 1, dict(
    regions=[(GLU_M, GLU_F, C_YEL),
             (P6_KRA_M, P6_KRA_F, C_KRA), (P6_FER_M, P6_FER_F, C_FER),
             (P6_MIN_M, P6_MIN_F, C_MIN), (P6_MINB_M, P6_MINB_F, C_MIN),
             (P6_FER3_M, P6_FER3_F, C_FER3)],
    ct=True,
    lines=[(P6_C_M, P6_C_F, "black", 1.4, None)],
    labels=[(P6_LAB, P6_LAB_M, P6_LAB_F, [C_BLK] * len(P6_LAB), 15, 12, 20)],
    title=tr_title("3\u00d7", "9")))

chart = alt.concat(p1, p2, p3, p4, p5, p6, columns=2, spacing={"row": 34, "column": 46}, bounds="flush").properties(
    padding={"left": 8, "top": 0, "right": 0, "bottom": 0}
).configure_view(stroke="#333333", strokeWidth=1.1)

chart.save("out.html", embed_options={"renderer": "svg", "actions": False})
